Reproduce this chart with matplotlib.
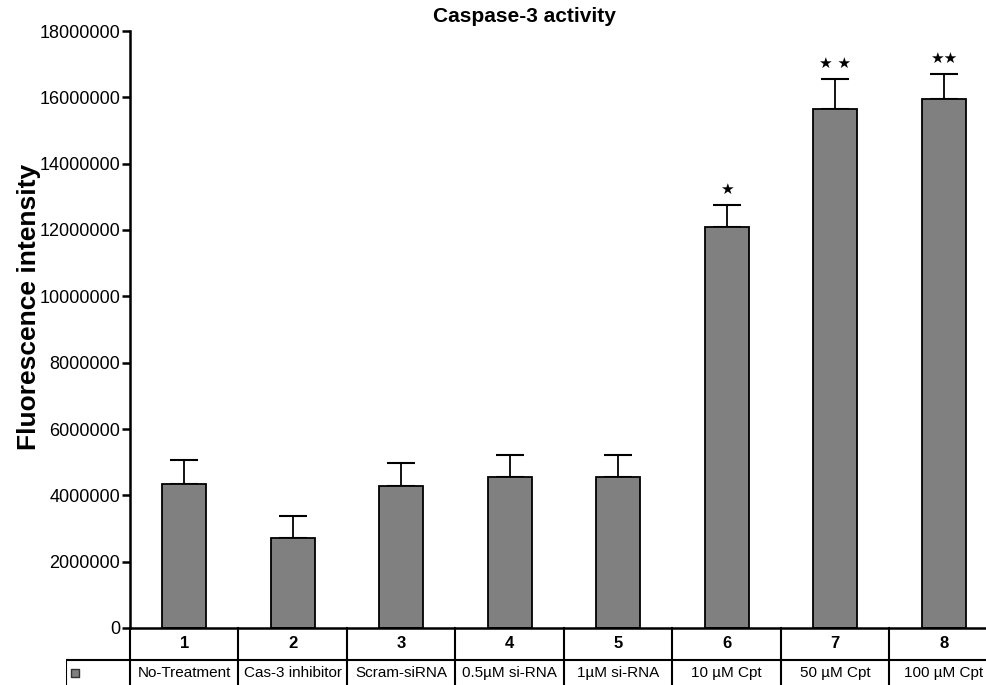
import matplotlib.pyplot as plt

# Data
group_numbers = ['1', '2', '3', '4', '5', '6', '7', '8']
treatments = ['No-Treatment', 'Cas-3 inhibitor', 'Scram-siRNA', '0.5µM si-RNA',
              '1µM si-RNA', '10 µM Cpt', '50 µM Cpt', '100 µM Cpt']
intensity = [4350000, 2700000, 4280000, 4550000, 4550000, 12100000, 15660000, 15960000]
errors = [730000, 690000, 700000, 660000, 660000, 650000, 880000, 730000]
significance = ['', '', '', '', '', '★', '★ ★', '★★']

y_ticks = [0, 2000000, 4000000, 6000000, 8000000, 10000000, 12000000,
           14000000, 16000000, 18000000]

W, H = 987, 685
fig = plt.figure(figsize=(W / 100, H / 100), dpi=100)
plt.rcParams['font.family'] = ['Liberation Sans', 'DejaVu Sans']

# main axes: x from 130 px to 998 px (slightly past right edge), y 628 -> 31 px
col_px = 108.5
ax = fig.add_axes([130 / W, (H - 628) / H, 8 * col_px / W, (628 - 31) / H])
x = list(range(len(intensity)))
ax.bar(x, intensity, width=0.41, color='#808080', edgecolor='black', linewidth=1.3, zorder=2)
ax.errorbar(x, intensity, yerr=[[0] * len(errors), errors], fmt='none',
            ecolor='black', elinewidth=1.3, capsize=10, capthick=1.5, zorder=1)
for xi, v, e, s in zip(x, intensity, errors, significance):
    if s:
        ax.text(xi, v + e + 250000, s, ha='center', va='bottom', fontsize=11,
                family=['DejaVu Sans'])

ax.set_xlim(-0.5, 7.5)
ax.set_ylim(0, 18000000)
ax.set_yticks(y_ticks)
ax.set_yticklabels([str(t) for t in y_ticks], fontsize=13)
ax.set_xticks([])
ax.spines['top'].set_visible(False)
ax.spines['right'].set_visible(False)
ax.spines['left'].set_linewidth(1.8)
ax.spines['bottom'].set_linewidth(1.8)
ax.tick_params(axis='y', direction='out', length=6, width=1.8, pad=1)
ax.set_ylabel('Fluorescence intensity', fontsize=19, fontweight='bold')
ax.yaxis.set_label_coords(-0.1025, 0.538)
fig.text(524 / W, 1 - 17 / H, 'Caspase-3 activity', ha='center', va='center',
         fontsize=15, fontweight='bold')

# table under the axis
left_x = -0.5 - 64 / col_px
tb = fig.add_axes([66 / W, 0, (130 + 8 * col_px - 66) / W, 57 / H])
tb.set_xlim(left_x, 7.5)
tb.set_ylim(0, 57)
tb.axis('off')
for b in [i - 0.5 for i in range(9)]:
    tb.plot([b, b], [0, 57], color='black', lw=1.5, clip_on=False)
tb.plot([left_x, 7.5], [25, 25], color='black', lw=1.5)
tb.plot([left_x, left_x], [0, 25], color='black', lw=1.5)
for xi, n, t in zip(x, group_numbers, treatments):
    tb.text(xi, 41, n, ha='center', va='center', fontsize=12, fontweight='bold')
    tb.text(xi, 12, t, ha='center', va='center', fontsize=11)
tb.scatter([left_x + 0.08], [12], marker='s', s=40, color='#808080',
           edgecolor='#333333', linewidth=1)

fig.savefig('out.png', dpi=100)
